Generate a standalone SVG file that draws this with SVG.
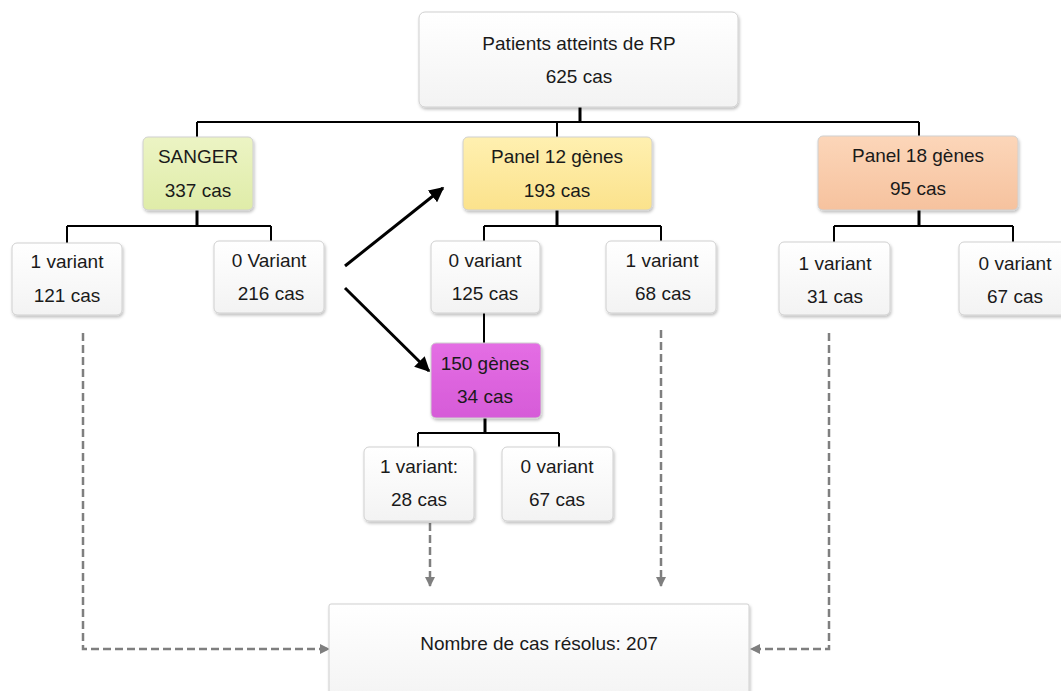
<svg xmlns="http://www.w3.org/2000/svg" width="1061" height="691" viewBox="0 0 1061 691">
<defs>
<filter id="sh" x="-10%" y="-10%" width="130%" height="140%">
<feDropShadow dx="1" dy="2" stdDeviation="1.5" flood-color="#000" flood-opacity="0.25"/>
</filter>
<linearGradient id="gw" x1="0" y1="0" x2="0" y2="1"><stop offset="0" stop-color="#ffffff"/><stop offset="1" stop-color="#f3f3f3"/></linearGradient>
<linearGradient id="gs" x1="0" y1="0" x2="0" y2="1"><stop offset="0" stop-color="#ecf4c4"/><stop offset="1" stop-color="#dfeca8"/></linearGradient>
<linearGradient id="gy" x1="0" y1="0" x2="0" y2="1"><stop offset="0" stop-color="#fff0b0"/><stop offset="1" stop-color="#fbe28c"/></linearGradient>
<linearGradient id="go" x1="0" y1="0" x2="0" y2="1"><stop offset="0" stop-color="#fcd6b9"/><stop offset="1" stop-color="#f6c29e"/></linearGradient>
<linearGradient id="gm" x1="0" y1="0" x2="0" y2="1"><stop offset="0" stop-color="#e46ee4"/><stop offset="1" stop-color="#d65bd8"/></linearGradient>
<marker id="ab" viewBox="0 0 10 10" refX="9" refY="5" markerWidth="5" markerHeight="5" orient="auto"><path d="M0,0 L10,5 L0,10 z" fill="#000"/></marker>
<marker id="ag" viewBox="0 0 10 10" refX="9" refY="5" markerWidth="4" markerHeight="4" orient="auto"><path d="M0,0 L10,5 L0,10 z" fill="#7f7f7f"/></marker>
<style>
.b{stroke:#d0d0d0;stroke-width:1;filter:url(#sh)}
.w{fill:url(#gw)}
.t{font-family:"Liberation Sans",Arial,sans-serif;font-size:19px;fill:#1a1a1a;text-anchor:middle}
.c{stroke:#000;stroke-width:2;fill:none}
.s{stroke:#000;stroke-width:3;fill:none}
.d{stroke:#7f7f7f;stroke-width:2.5;stroke-dasharray:8 4;fill:none}
.a{stroke:#000;stroke-width:3;fill:none}
</style>
</defs>
<g id="connectors">
<path class="s" d="M580 107 V122"/>
<path class="c" d="M197 122 H919 M197 122 V137 M557 122 V137 M919 122 V136"/>
<path class="s" d="M197 210 V226"/>
<path class="c" d="M67 226 H271 M67 226 V243 M271 226 V241"/>
<path class="s" d="M557 210 V226"/>
<path class="c" d="M484 226 H661 M484 226 V241 M661 226 V241"/>
<path class="s" d="M919 210 V226"/>
<path class="c" d="M834 226 H1013 M834 226 V242 M1013 226 V242"/>
<path class="c" d="M484 313 V343"/>
<path class="s" d="M485 418 V433"/>
<path class="c" d="M418 433 H559 M418 433 V447 M559 433 V447"/>
<path class="a" d="M345 266 L443 188" marker-end="url(#ab)"/>
<path class="a" d="M345 288 L429 371" marker-end="url(#ab)"/>
<path class="d" d="M83 333 V649 H329" marker-end="url(#ag)"/>
<path class="d" d="M829 333 V649 H751" marker-end="url(#ag)"/>
<path class="d" d="M430 523 V586" marker-end="url(#ag)"/>
<path class="d" d="M661 330 V586" marker-end="url(#ag)"/>
</g>
<g id="n-root"><rect class="b w" x="419" y="12" width="319" height="95" rx="6"/><text class="t" x="579" y="50">Patients atteints de RP</text><text class="t" x="579" y="83">625 cas</text></g>
<g id="n-sanger"><rect class="b" fill="url(#gs)" x="143" y="137" width="110" height="73" rx="5"/><text class="t" x="198" y="163">SANGER</text><text class="t" x="198" y="197">337 cas</text></g>
<g id="n-p12"><rect class="b" fill="url(#gy)" x="463" y="137" width="189" height="73" rx="5"/><text class="t" x="557" y="163">Panel 12 gènes</text><text class="t" x="557" y="197">193 cas</text></g>
<g id="n-p18"><rect class="b" fill="url(#go)" x="818" y="136" width="200" height="74" rx="5"/><text class="t" x="918" y="162">Panel 18 gènes</text><text class="t" x="918" y="195">95 cas</text></g>
<g id="n-s1"><rect class="b w" x="12" y="243" width="110" height="72" rx="5"/><text class="t" x="67" y="268">1 variant</text><text class="t" x="67" y="302">121 cas</text></g>
<g id="n-s0"><rect class="b w" x="214" y="241" width="110" height="72" rx="5"/><text class="t" x="269" y="267">0 Variant</text><text class="t" x="271" y="300">216 cas</text></g>
<g id="n-p12-0"><rect class="b w" x="431" y="241" width="109" height="72" rx="5"/><text class="t" x="485" y="267">0 variant</text><text class="t" x="485" y="300">125 cas</text></g>
<g id="n-p12-1"><rect class="b w" x="606" y="241" width="110" height="72" rx="5"/><text class="t" x="662" y="267">1 variant</text><text class="t" x="663" y="300">68 cas</text></g>
<g id="n-p18-1"><rect class="b w" x="779" y="242" width="111" height="73" rx="5"/><text class="t" x="835" y="270">1 variant</text><text class="t" x="835" y="303">31 cas</text></g>
<g id="n-p18-0"><rect class="b w" x="959" y="242" width="111" height="73" rx="5"/><text class="t" x="1015" y="270">0 variant</text><text class="t" x="1015" y="303">67 cas</text></g>
<g id="n-150"><rect class="b" fill="url(#gm)" x="431" y="343" width="110" height="75" rx="5"/><text class="t" x="485" y="370">150 gènes</text><text class="t" x="485" y="403">34 cas</text></g>
<g id="n-150-1"><rect class="b w" x="364" y="447" width="110" height="74" rx="5"/><text class="t" x="419" y="473">1 variant:</text><text class="t" x="419" y="506">28 cas</text></g>
<g id="n-150-0"><rect class="b w" x="502" y="447" width="111" height="74" rx="5"/><text class="t" x="557" y="473">0 variant</text><text class="t" x="557" y="506">67 cas</text></g>
<g id="n-total"><rect class="b w" x="329" y="604" width="420" height="100" rx="2"/><text class="t" x="539" y="650">Nombre de cas résolus: 207</text></g>
</svg>
